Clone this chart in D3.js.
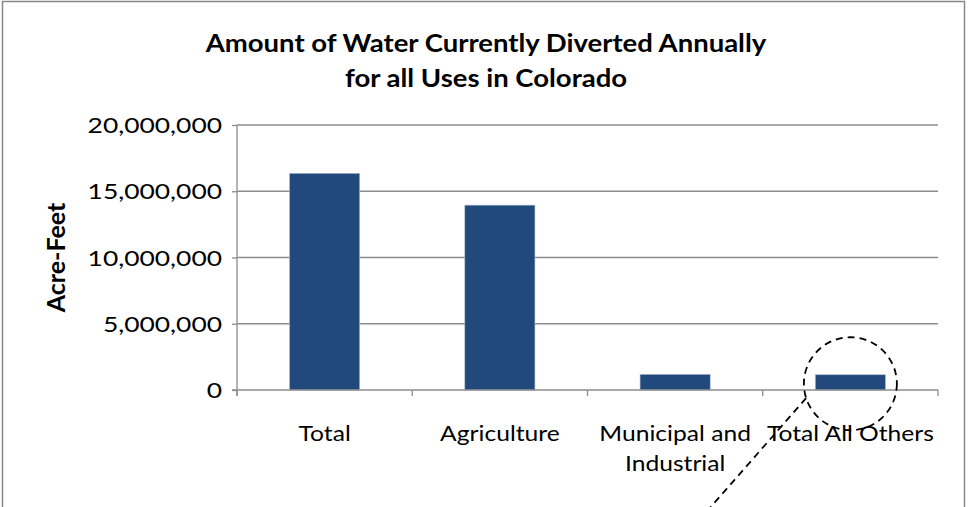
<!DOCTYPE html>
<html>
<head>
<meta charset="utf-8">
<script src="https://cdn.jsdelivr.net/npm/d3@7"></script>
<style>
	body { margin: 0; background: #fff; }
	text { font-family: Lato, "Open Sans", sans-serif; fill: #000; }
</style>
</head>
<body>
<div id="chart-area"></div>
<script>
const categories = ['Total', 'Agriculture', 'Municipal and Industrial', 'Total All Others']
const values = [16350000, 13950000, 1180000, 1150000]
const yTicks = [0, 5000000, 10000000, 15000000, 20000000]
const titleLines = ['Amount of Water Currently Diverted Annually', 'for all Uses in Colorado']

const canvas = { width: 968, height: 507 }
const margin = { left: 237, right: 30, top: 125, bottom: 117 }
const plot = {
	width: canvas.width - margin.left - margin.right,
	height: canvas.height - margin.top - margin.bottom
}

let svg = d3.select('#chart-area')
	.append('svg')
		.attr('width', canvas.width)
		.attr('height', canvas.height)

// Outer frame
svg.append('rect')
	.attr('x', 2.5).attr('y', 1.5)
	.attr('width', 962).attr('height', 520)
	.attr('fill', 'none')
	.attr('stroke', '#888')
	.attr('stroke-width', 1.5)

let g = svg.append('g')
	.attr('transform', `translate(${margin.left}, ${margin.top})`)

// Text stretched a little wider, like the reference
function stretchedText(parent, x, y, sx, anchor, size, weight, str) {
	return parent.append('text')
		.attr('transform', `translate(${x}, ${y}) scale(${sx}, 1)`)
		.attr('text-anchor', anchor)
		.attr('font-size', size)
		.attr('font-weight', weight)
		.text(str)
}

// Scales
let x = d3.scaleBand()
	.domain(categories)
	.range([0, plot.width])
	.paddingInner(0.6)
	.paddingOuter(0.3)
let y = d3.scaleLinear()
	.domain([0, 20000000])
	.range([plot.height, 0])

// Gridlines
g.append('g')
	.selectAll('line')
	.data(yTicks.slice(1))
	.enter().append('line')
		.attr('x1', 0).attr('x2', plot.width)
		.attr('y1', d => y(d)).attr('y2', d => y(d))
		.attr('stroke', '#8c8c8c')
		.attr('stroke-width', 1.3)

// Y axis (labels drawn separately so they can be stretched)
let yAxis = d3.axisLeft(y)
	.tickValues(yTicks)
	.tickSize(5)
	.tickFormat('')
g.append('g')
	.attr('id', 'y-axis')
	.call(yAxis)
	.call(a => a.select('.domain').attr('stroke', '#8c8c8c').attr('stroke-width', 1.3).attr('d', `M0,0V${plot.height + 6}`))
	.call(a => a.selectAll('.tick line').attr('stroke', '#8c8c8c').attr('stroke-width', 1.3))
yTicks.forEach(t => {
	stretchedText(g, -15, y(t) + 8, 1.2, 'end', '22px', 'normal', d3.format(',')(t))
})

// Bars
g.selectAll('rect.bar')
	.data(values)
	.enter().append('rect')
		.attr('class', 'bar')
		.attr('x', (d, i) => x(categories[i]))
		.attr('width', x.bandwidth())
		.attr('y', d => y(d))
		.attr('height', d => plot.height - y(d))
		.attr('fill', '#21497c')
		.attr('stroke', '#a9b8cc')
		.attr('stroke-width', 0.6)

// X axis line with boundary ticks
let step = plot.width / categories.length
g.append('line')
	.attr('x1', -5).attr('x2', plot.width)
	.attr('y1', plot.height).attr('y2', plot.height)
	.attr('stroke', '#8c8c8c')
	.attr('stroke-width', 1.3)
g.append('g')
	.selectAll('line')
	.data(d3.range(categories.length + 1))
	.enter().append('line')
		.attr('x1', d => d * step).attr('x2', d => d * step)
		.attr('y1', plot.height).attr('y2', plot.height + 6)
		.attr('stroke', '#8c8c8c')
		.attr('stroke-width', 1.3)

// Category labels
let wrapped = { 'Municipal and Industrial': ['Municipal and', 'Industrial'] }
categories.forEach(c => {
	let lines = wrapped[c] || [c]
	lines.forEach((l, i) => {
		stretchedText(g, x(c) + x.bandwidth() / 2, plot.height + 51 + i * 30, 1.12, 'middle', '22px', 'normal', l)
	})
})

// Titles
titleLines.forEach((l, i) => {
	stretchedText(svg, 486, 52 + i * 35, 1.1, 'middle', '25px', 'bold', l)
})
svg.append('text')
	.attr('transform', `translate(65, ${margin.top + plot.height / 2}) rotate(-90)`)
	.attr('text-anchor', 'middle')
	.attr('font-size', '25px')
	.attr('font-weight', 'bold')
	.text('Acre-Feet')

// Dashed callout circle and leader line
let cx = x('Total All Others') + x.bandwidth() / 2
let cy = y(values[3]) + 9
let r = 46.5
let dash = { stroke: '#000', width: 1.8, array: '7,5' }
g.append('circle')
	.attr('cx', cx).attr('cy', cy).attr('r', r)
	.attr('fill', 'none')
	.attr('stroke', dash.stroke)
	.attr('stroke-width', dash.width)
	.attr('stroke-dasharray', dash.array)
let a0 = 162 * Math.PI / 180
let sx = cx + r * Math.cos(a0)
let sy = cy + r * Math.sin(a0)
g.append('line')
	.attr('x1', sx).attr('y1', sy)
	.attr('x2', sx - 0.659 * 200).attr('y2', sy + 0.752 * 200)
	.attr('stroke', dash.stroke)
	.attr('stroke-width', dash.width)
	.attr('stroke-dasharray', dash.array)
</script>
</body>
</html>
